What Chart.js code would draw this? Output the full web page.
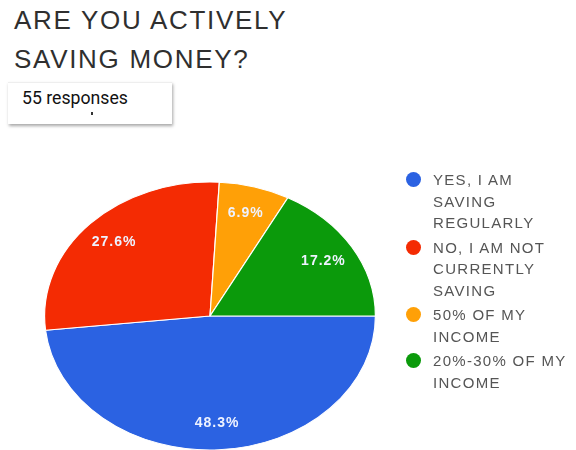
<!DOCTYPE html>
<html>
<head>
<meta charset="utf-8">
<script src="https://cdn.jsdelivr.net/npm/chart.js@4.4.0/dist/chart.umd.min.js"></script>
<style>
  html, body { margin: 0; padding: 0; width: 576px; height: 450px; overflow: hidden; background: #ffffff; }
  #title { position: absolute; left: 14px; top: 1px; font-family: "Liberation Sans", Arial, sans-serif;
           font-size: 26px; line-height: 39px; letter-spacing: 1.7px; color: #2f2f2f; }
  #resp { position: absolute; left: 8px; top: 82px; width: 164px; height: 41px; background: #fff;
          border-top: 1px solid #eee; box-shadow: 1px 2px 3px rgba(0,0,0,0.35);
          font-family: Roboto, "Liberation Sans", sans-serif; font-size: 19px; color: #111; }
  #resp span { position: absolute; left: 14px; top: 3px; transform: scaleX(0.93); transform-origin: left center; }
  #resp i { position: absolute; left: 83px; top: 29px; width: 2px; height: 3px; background: #333; }
  #legend { position: absolute; left: 405px; top: 169px; font-family: "Liberation Sans", Arial, sans-serif;
            font-size: 15px; line-height: 21.5px; letter-spacing: 1.3px; color: #555; }
  .item { position: relative; padding-left: 28px; margin-bottom: 3px; }
  .dot { position: absolute; left: 1px; top: 3px; width: 15px; height: 15px; border-radius: 50%; }
  #wrap { position: absolute; left: 0; top: 0; width: 576px; height: 520px; }
</style>
</head>
<body>
<div id="title">ARE YOU ACTIVELY<br>SAVING MONEY?</div>
<div id="resp"><span>55 responses</span><i></i></div>
<div id="wrap"><canvas id="c"></canvas></div>
<div id="legend"></div>
<script>
// Answer categories (legend lines) and their shares in percent
const categories = [
  ["YES, I AM", "SAVING", "REGULARLY"],
  ["NO, I AM NOT", "CURRENTLY", "SAVING"],
  ["50% OF MY", "INCOME"],
  ["20%-30% OF MY", "INCOME"]
];
const shares = [48.3, 27.6, 6.9, 17.2];
const sliceColors = ["#2b62e2", "#f42b03", "#ffa007", "#0b9a0b"];

// Pie is drawn flattened vertically
const Y_SCALE = 0.81;

// legend
const legend = document.getElementById("legend");
categories.forEach((lines, i) => {
  const d = document.createElement("div");
  d.className = "item";
  d.innerHTML = '<span class="dot" style="background:' + sliceColors[i] + '"></span>' + lines.join("<br>");
  legend.appendChild(d);
});

const flatten = {
  id: "flatten",
  beforeDatasetsDraw(chart) {
    const arc = chart.getDatasetMeta(0).data[0];
    const ctx = chart.ctx;
    ctx.save();
    ctx.translate(arc.x, arc.y);
    ctx.scale(1, Y_SCALE);
    ctx.translate(-arc.x, -arc.y);
  },
  afterDatasetsDraw(chart) {
    chart.ctx.restore();
    const ctx = chart.ctx;
    const meta = chart.getDatasetMeta(0);
    ctx.save();
    ctx.font = "bold 14px 'Liberation Sans', Arial, sans-serif";
    ctx.textAlign = "center";
    ctx.textBaseline = "middle";
    ctx.fillStyle = "#eef2ff";
    if ("letterSpacing" in ctx) ctx.letterSpacing = "1px";
    meta.data.forEach((a, i) => {
      const mid = (a.startAngle + a.endAngle) / 2;
      const r = a.outerRadius * 0.8;
      const x = a.x + Math.cos(mid) * r;
      const y = a.y + Math.sin(mid) * r * Y_SCALE;
      ctx.fillText(shares[i].toFixed(1) + "%", x, y);
    });
    ctx.restore();
  }
};

new Chart(document.getElementById("c"), {
  type: "pie",
  data: {
    labels: categories.map(l => l.join(" ")),
    datasets: [{
      data: shares,
      backgroundColor: sliceColors,
      borderColor: "#ffffff",
      borderWidth: 1.2
    }]
  },
  options: {
    responsive: true,
    maintainAspectRatio: false,
    animation: false,
    rotation: 90,
    layout: { padding: { left: 44, right: 200, top: 150, bottom: 38 } },
    plugins: { legend: { display: false }, tooltip: { enabled: false } }
  },
  plugins: [flatten]
});
</script>
</body>
</html>
